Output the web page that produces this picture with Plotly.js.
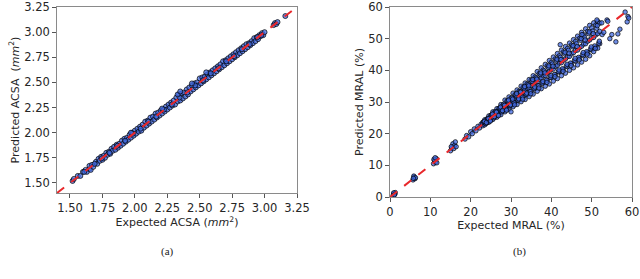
<!DOCTYPE html>
<html><head><meta charset="utf-8">
<script src="https://cdn.plot.ly/plotly-3.0.1.min.js"></script>
<style>html,body{margin:0;padding:0;background:#fff}#plot{width:640px;height:279px}</style>
</head><body><div id="plot"></div>
<script>
// Panel (a): ACSA (mm^2)
const acsaExpected = [1.52,1.53,1.56,1.58,1.60,1.62,1.63,1.65,1.65,1.66,1.67,1.68,1.70,1.71,1.72,1.73,1.74,1.75,1.76,1.77,1.78,1.79,1.80,1.81,1.82,1.83,1.84,1.85,1.86,1.87,1.88,1.89,1.90,1.91,1.92,1.93,1.94,1.95,1.96,1.97,1.98,1.99,2.00,2.01,2.02,2.03,2.04,2.05,2.06,2.07,2.08,2.09,2.10,2.11,2.12,2.13,2.14,2.15,2.16,2.17,2.18,2.19,2.20,2.21,2.22,2.23,2.24,2.25,2.26,2.27,2.28,2.29,2.30,2.31,2.32,2.33,2.34,2.35,2.36,2.37,2.38,2.39,2.40,2.41,2.42,2.43,2.44,2.45,2.46,2.47,2.48,2.49,2.50,2.51,2.52,2.53,2.54,2.55,2.56,2.57,2.58,2.59,2.60,2.61,2.62,2.63,2.64,2.65,2.66,2.67,2.68,2.69,2.70,2.71,2.72,2.73,2.74,2.75,2.76,2.77,2.78,2.79,2.80,2.81,2.82,2.83,2.84,2.85,2.86,2.87,2.88,2.89,2.90,2.91,2.92,2.93,2.94,2.95,2.96,2.97,2.98,2.99,3.00,3.07,3.08,3.09,3.10,3.16,
  1.61,1.69,1.745,1.805,1.865,1.925,1.985,2.045,2.105,2.165,2.225,2.285,2.345,2.405,2.465,2.525,2.585,2.645,2.705,2.765,2.825,2.885,2.945,2.975,
  2.33,2.35,2.55,2.21,2.44,1.97];
const acsaPredicted = [1.52,1.54,1.57,1.57,1.61,1.63,1.61,1.64,1.67,1.63,1.68,1.66,1.71,1.69,1.74,1.72,1.76,1.73,1.77,1.75,1.80,1.78,1.81,1.79,1.84,1.82,1.86,1.83,1.88,1.85,1.89,1.87,1.92,1.89,1.94,1.91,1.95,1.93,1.98,1.95,2.00,1.97,2.02,1.99,2.04,2.01,2.06,2.02,2.08,2.05,2.11,2.07,2.12,2.09,2.15,2.11,2.16,2.13,2.19,2.15,2.20,2.17,2.22,2.19,2.23,2.21,2.26,2.23,2.28,2.25,2.30,2.27,2.32,2.28,2.35,2.31,2.38,2.32,2.39,2.34,2.40,2.36,2.43,2.38,2.45,2.41,2.47,2.43,2.49,2.45,2.50,2.47,2.54,2.49,2.55,2.51,2.56,2.53,2.58,2.55,2.60,2.57,2.62,2.59,2.64,2.61,2.66,2.63,2.68,2.65,2.71,2.67,2.72,2.69,2.74,2.71,2.76,2.73,2.78,2.75,2.80,2.77,2.82,2.79,2.84,2.81,2.86,2.83,2.88,2.85,2.89,2.87,2.91,2.89,2.94,2.91,2.95,2.93,2.97,2.96,2.99,2.97,3.00,3.07,3.09,3.08,3.10,3.16,
  1.61,1.69,1.745,1.80,1.87,1.92,1.99,2.04,2.11,2.16,2.23,2.28,2.35,2.40,2.47,2.52,2.59,2.64,2.71,2.76,2.83,2.88,2.95,2.97,
  2.38,2.41,2.60,2.24,2.49,2.00];

// Panel (b): MRAL (%)
const mralExpected = [0.8,1.0,1.2,1.3,0.9,1.1,
  5.7,6.0,6.2,5.9,6.3,5.8,
  10.8,11.0,11.3,11.5,10.9,11.6,11.2,
  15.0,15.3,15.6,16.0,16.2,15.8,16.4,15.2,
  18.6,19.0,19.5,20.0,20.4,20.9,21.3,21.8,22.2,22.6,
  23,23,23,23.5,23.5,23.5,24,24,24,24.5,24.5,24.5,25,25,25,25.5,25.5,25.5,26,26,26,26.5,26.5,26.5,27,27,27,27.5,27.5,27.5,28,28,28,28.5,28.5,28.5,29,29,29,29.5,29.5,29.5,
  30,30,30,30.5,30.5,30.5,31,31,31,31.5,31.5,31.5,32,32,32,32.5,32.5,32.5,33,33,33,33.5,33.5,33.5,34,34,34,34.5,34.5,34.5,35,35,35,35.5,35.5,35.5,36,36,36,36.5,36.5,36.5,37,37,37,37.5,37.5,37.5,38,38,38,38.5,38.5,38.5,39,39,39,39.5,39.5,39.5,
  40,40,40,40.5,40.5,40.5,41,41,41,41.5,41.5,41.5,42,42,42,42.5,42.5,42.5,43,43,43,43.5,43.5,43.5,44,44,44,44.5,44.5,44.5,45,45,45,45.5,45.5,45.5,46,46,46,46.5,46.5,46.5,47,47,47,47.5,47.5,47.5,48,48,48,48.5,48.5,48.5,49,49,49,49.5,49.5,49.5,
  50,50,50,50.5,50.5,50.5,51,51,51,51.5,51.5,51.5,52,52,52,
  23.25,23.75,24.25,24.75,25.25,25.75,26.25,26.75,27.25,27.75,28.25,28.75,29.25,29.75,30.25,30.75,31.25,31.75,32.25,32.75,33.25,33.75,34.25,34.75,35.25,35.75,36.25,36.75,37.25,37.75,38.25,38.75,39.25,39.75,40.25,40.75,41.25,41.75,42.25,42.75,43.25,43.75,44.25,44.75,45.25,45.75,46.25,46.75,47.25,47.75,48.25,48.75,49.25,49.75,50.25,50.75,51.25,51.75,
  23.4,24.4,25.4,26.4,27.4,28.4,29.4,30.4,31.4,32.4,33.4,34.4,35.4,36.4,37.4,38.4,39.4,40.4,41.4,42.4,43.4,44.4,45.4,46.4,47.4,48.4,49.4,50.4,51.4,
  23.9,24.9,25.9,26.9,27.9,28.9,29.9,30.9,31.9,32.9,33.9,34.9,35.9,36.9,37.9,38.9,39.9,40.9,41.9,42.9,43.9,44.9,45.9,46.9,47.9,48.9,49.9,50.9,51.9,
  42.2,47.6,52.6,55.0,57.0,58.8,59.0,58.3,53.8,51.3,52.5,53.0,54.0,56.0,54.5,56.5,59.2,30.0];
const mralPredicted = [0.6,1.1,0.9,1.4,1.3,0.7,
  5.4,6.3,5.8,6.6,6.1,5.9,
  10.5,11.6,11.0,12.1,11.9,10.8,12.4,
  14.6,15.5,16.8,16.2,17.4,15.3,15.9,15.9,
  18.3,19.4,19.0,20.6,20.0,21.5,20.9,22.3,21.8,23.0,
  23.6,22.5,23.1,24.4,22.8,23.4,24.6,23.4,24.2,25.6,23.6,24.4,25.8,24.3,25.2,26.9,24.5,25.3,26.9,25.3,26.2,27.9,25.2,26.6,28.0,26.2,27.1,29.2,26.0,27.4,29.0,27.1,28.3,30.6,26.9,28.4,30.3,28.0,29.2,31.6,27.7,29.4,
  31.2,28.9,30.3,32.8,28.5,30.4,32.3,29.8,31.2,33.8,29.2,31.6,33.4,30.7,32.3,35.0,30.1,32.4,34.6,31.6,33.2,36.0,30.8,33.6,35.7,32.4,34.3,37.1,31.7,34.4,36.9,33.4,35.2,38.3,32.5,35.6,37.9,34.2,36.3,39.6,33.4,36.4,39.0,35.2,37.2,40.8,34.2,37.6,40.1,36.0,38.3,41.9,35.0,38.4,41.4,36.9,39.2,43.1,35.7,39.6,
  42.5,37.7,40.3,44.2,36.6,40.4,43.6,38.6,41.2,45.3,37.4,41.6,44.6,39.5,42.3,46.4,38.3,42.4,45.8,40.3,43.2,47.5,39.1,43.6,46.9,41.2,44.3,48.6,40.0,44.4,48.0,42.1,45.2,49.7,40.8,45.6,49.1,42.9,46.3,50.8,41.7,46.4,50.1,43.8,47.2,52.0,42.6,47.6,51.2,44.7,48.3,53.1,43.5,48.4,52.3,45.6,49.2,54.2,44.6,49.6,
  53.4,46.5,50.3,55.0,45.9,50.4,54.3,47.3,51.2,55.4,47.0,51.6,54.9,48.4,52.3,
  23.7,23.2,24.8,24.1,26.0,25.0,27.0,26.0,28.1,26.9,29.3,27.8,30.3,28.8,31.3,29.7,32.2,30.6,33.3,31.5,34.4,32.4,35.5,33.3,36.5,34.2,37.6,35.1,38.7,36.0,39.8,36.9,40.9,37.8,42.0,38.7,43.0,39.6,44.1,40.5,45.2,41.4,46.3,42.3,47.4,43.2,48.4,44.1,49.5,45.0,50.5,45.9,51.6,46.8,52.4,47.7,53.3,48.6,
  23.9,24.7,26.2,26.8,28.4,28.9,30.6,30.9,32.7,33.1,34.9,35.1,37.1,37.2,39.2,39.2,41.4,41.3,43.5,43.4,45.7,45.4,47.8,47.5,50.0,49.6,52.1,51.6,54.1,
  23.5,24.0,25.4,25.7,27.3,27.4,29.1,29.1,31.0,30.9,32.8,32.6,34.7,34.4,36.5,36.2,38.3,38.0,40.1,39.7,41.9,41.5,43.8,43.3,45.6,45.1,47.4,46.9,49.2,
  48.1,51.3,51.3,51.3,53.0,55.3,57.0,58.4,55.9,55.9,55.0,52.0,55.5,49.0,50.0,51.5,56.5,26.9];

const acsaRange = [1.4, 3.25];
const acsaTicks = [1.50,1.75,2.00,2.25,2.50,2.75,3.00,3.25];
const mralRange = [0, 60];
const mralTicks = [0,10,20,30,40,50,60];

const markerA = {size: 5, color: 'rgba(65,105,225,0.75)', line: {color: '#000', width: 0.7}};
const markerB = {size: 4.5, color: 'rgba(65,105,225,0.75)', line: {color: '#000', width: 0.7}};
const lineStyle = {color: '#e8282b', width: 2, dash: 'dash'};

const traces = [
  {x: acsaExpected, y: acsaPredicted, type: 'scatter', mode: 'markers', marker: markerA, xaxis: 'x', yaxis: 'y', hoverinfo: 'skip'},
  {x: acsaRange, y: acsaRange, type: 'scatter', mode: 'lines', line: lineStyle, xaxis: 'x', yaxis: 'y'},
  {x: mralExpected, y: mralPredicted, type: 'scatter', mode: 'markers', marker: markerB, xaxis: 'x2', yaxis: 'y2', hoverinfo: 'skip'},
  {x: mralRange, y: mralRange, type: 'scatter', mode: 'lines', line: lineStyle, xaxis: 'x2', yaxis: 'y2'}
];

const tickFont = {family: 'DejaVu Sans', size: 11.5, color: '#262626'};
const titleFont = {family: 'DejaVu Sans', size: 11, color: '#262626'};
const axBase = {showline: true, mirror: true, linecolor: '#8a8a8a', linewidth: 1.3, ticks: 'outside', ticklen: 3.5, tickwidth: 1, tickcolor: '#555', showgrid: false, zeroline: false, tickfont: tickFont, ticklabeloverflow: 'allow'};

const layout = {
  width: 640, height: 279,
  margin: {l: 0, r: 0, t: 0, b: 0},
  paper_bgcolor: '#fff', plot_bgcolor: '#fff',
  showlegend: false,
  xaxis: Object.assign({}, axBase, {domain: [57/640, 297/640], range: acsaRange, tickvals: acsaTicks, tickformat: '.2f', anchor: 'y',
    title: {text: 'Expected ACSA (<i>mm</i><sup>2</sup>)', font: titleFont, standoff: 3}}),
  yaxis: Object.assign({}, axBase, {domain: [86/279, 272/279], range: acsaRange, tickvals: acsaTicks, tickformat: '.2f', anchor: 'x',
    title: {text: 'Predicted ACSA  (<i>mm</i><sup>2</sup>)', font: titleFont, standoff: 2}}),
  xaxis2: Object.assign({}, axBase, {domain: [390/640, 632/640], range: mralRange, tickvals: mralTicks, anchor: 'y2',
    title: {text: 'Expected MRAL (%)', font: titleFont, standoff: 3}}),
  yaxis2: Object.assign({}, axBase, {domain: [82/279, 272/279], range: mralRange, tickvals: mralTicks, anchor: 'x2',
    title: {text: 'Predicted MRAL (%)', font: titleFont, standoff: 2}}),
  annotations: [
    {text: '(a)', x: 167/640, y: 1 - 251/279, xref: 'paper', yref: 'paper', showarrow: false, xanchor: 'center', yanchor: 'middle', font: {family: 'Liberation Serif', size: 11, color: '#222'}},
    {text: '(b)', x: 519/640, y: 1 - 251/279, xref: 'paper', yref: 'paper', showarrow: false, xanchor: 'center', yanchor: 'middle', font: {family: 'Liberation Serif', size: 11, color: '#222'}}
  ]
};

Plotly.newPlot('plot', traces, layout, {staticPlot: true, displayModeBar: false});
</script></body></html>
